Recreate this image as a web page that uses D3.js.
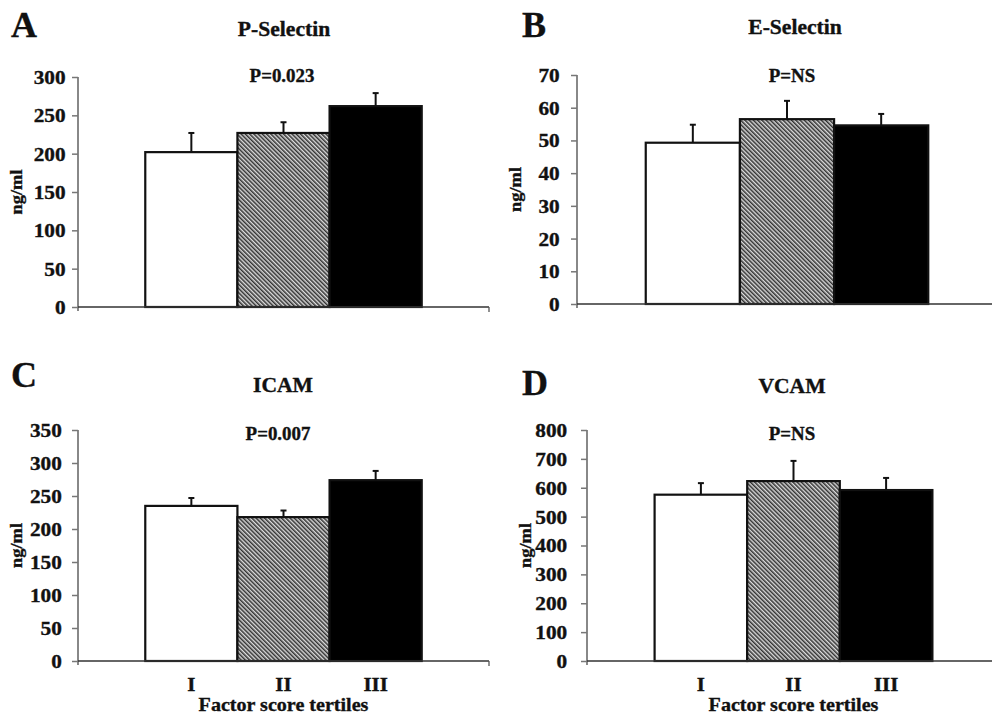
<!DOCTYPE html>
<html>
<head>
<meta charset="utf-8">
<script src="https://cdn.jsdelivr.net/npm/d3@7"></script>
<style>
html,body{margin:0;padding:0;background:#fff;}
svg{display:block;}
text{font-family:"Liberation Serif","Times New Roman",serif;font-weight:bold;fill:#111;stroke:#111;stroke-width:0.35px;}
</style>
</head>
<body>
<svg id="chart" width="992" height="715"></svg>
<script>
// ---- Data ----
const tertiles = ["I", "II", "III"];
const panelLetters = ["A", "B", "C", "D"];
const panelTitles = ["P-Selectin", "E-Selectin", "ICAM", "VCAM"];
const pValues = ["P=0.023", "P=NS", "P=0.007", "P=NS"];
const yMaxes = [300, 70, 350, 800];
const yTickSteps = [50, 10, 50, 100];
const pSelectinMeans = [202, 227, 262];
const pSelectinErrors = [25, 14, 17];
const eSelectinMeans = [49.3, 56.5, 54.6];
const eSelectinErrors = [5.5, 5.6, 3.5];
const icamMeans = [235, 218, 274];
const icamErrors = [12, 10, 14];
const vcamMeans = [576, 623, 592];
const vcamErrors = [40, 70, 42];
const xAxisTitle = "Factor score tertiles";
const yAxisTitle = "ng/ml";

const seriesMeans = [pSelectinMeans, eSelectinMeans, icamMeans, vcamMeans];
const seriesErrors = [pSelectinErrors, eSelectinErrors, icamErrors, vcamErrors];

// ---- Layout ----
const layouts = [
  {axisX:78,  right:489,  top:77,  bottom:307, pad:4,  letterX:11,  letterY:37,  titleX:284, titleY:36,  pX:282, pY:82,  showX:false},
  {axisX:577, right:997,  top:75,  bottom:304, pad:8,  letterX:522, letterY:37,  titleX:795, titleY:34,  pX:792, pY:82,  showX:false},
  {axisX:78,  right:489,  top:430, bottom:661, pad:7,  letterX:11,  letterY:387, titleX:283, titleY:392, pX:278, pY:440, showX:true},
  {axisX:587, right:1000, top:430, bottom:661, pad:10, letterX:522, letterY:395, titleX:792, titleY:393, pX:792, pY:440, showX:true}
];
const SX = 1.08; // horizontal stretch of the scanned figure text

const svg = d3.select("#chart");
const defs = svg.append("defs");
const pat = defs.append("pattern")
  .attr("id","hatch").attr("patternUnits","userSpaceOnUse")
  .attr("width",3).attr("height",3)
  .attr("patternTransform","rotate(-45)");
pat.append("rect").attr("width",3).attr("height",3).attr("fill","#dcdcdc");
pat.append("line").attr("x1",0.8).attr("y1",0).attr("x2",0.8).attr("y2",3)
  .attr("stroke","#1a1a1a").attr("stroke-width",1.35);

const fills = ["#ffffff", "url(#hatch)", "#000000"];

function txt(g, x, y, s, size, anchor, sx, rot){
  return g.append("text")
    .attr("transform", `translate(${x},${y})` + (rot ? ` rotate(${rot})` : "") + ` scale(${sx},1)`)
    .attr("text-anchor", anchor)
    .style("font-size", size + "px")
    .text(s);
}

layouts.forEach((L, i) => {
  const g = svg.append("g");
  const y = d3.scaleLinear().domain([0, yMaxes[i]]).range([L.bottom, L.top]);
  const x = d3.scaleBand().domain(tertiles).range([L.axisX, L.right])
    .paddingInner(0).paddingOuter(0.73);

  // bars
  g.selectAll("rect.bar").data(tertiles).enter().append("rect")
    .attr("x", d => x(d))
    .attr("width", x.bandwidth())
    .attr("y", (d, k) => y(seriesMeans[i][k]))
    .attr("height", (d, k) => L.bottom - y(seriesMeans[i][k]))
    .attr("fill", (d, k) => fills[k])
    .attr("stroke", "#111").attr("stroke-width", 2.2);

  // error bars
  tertiles.forEach((d, k) => {
    const cx = x(d) + x.bandwidth() / 2;
    const y1 = y(seriesMeans[i][k]);
    const y2 = y(seriesMeans[i][k] + seriesErrors[i][k]);
    g.append("line").attr("x1", cx).attr("x2", cx).attr("y1", y1).attr("y2", y2)
      .attr("stroke", "#111").attr("stroke-width", 2);
    g.append("line").attr("x1", cx - 3).attr("x2", cx + 3).attr("y1", y2).attr("y2", y2)
      .attr("stroke", "#111").attr("stroke-width", 2);
  });

  // y axis
  const ticks = d3.range(0, yMaxes[i] + 0.001, yTickSteps[i]);
  const yAxis = d3.axisLeft(y).tickValues(ticks).tickSize(6).tickPadding(L.pad).tickFormat(d3.format("d"));
  const ya = g.append("g").attr("transform", `translate(${L.axisX},0)`).call(yAxis);
  ya.select(".domain").attr("stroke", "#888").attr("stroke-width", 2)
    .attr("d", `M0,${L.top}V${L.bottom + 4}`);
  ya.selectAll(".tick line").attr("stroke", "#777").attr("stroke-width", 1.5);
  ya.selectAll(".tick text")
    .attr("fill", "#111")
    .style("font-size", "19px")
    .style("font-family", '"Liberation Serif","Times New Roman",serif')
    .style("font-weight", "bold")
    .attr("dy", "0.34em")
    .attr("transform", function(){ const xx = +d3.select(this).attr("x"); return `translate(${xx*(1.12-1)},0) scale(1.12,1)`; });

  // x axis
  g.append("line").attr("x1", L.axisX).attr("x2", L.right).attr("y1", L.bottom).attr("y2", L.bottom)
    .attr("stroke", "#333").attr("stroke-width", 1.3);
  g.append("line").attr("x1", L.right).attr("x2", L.right).attr("y1", L.bottom).attr("y2", L.bottom + 5)
    .attr("stroke", "#555").attr("stroke-width", 1.3);

  // texts
  txt(g, L.letterX, L.letterY, panelLetters[i], 36, "start", 1.0);
  txt(g, L.titleX, L.titleY, panelTitles[i], 20, "middle", SX);
  txt(g, L.pX, L.pY, pValues[i], 18, "middle", 1.05);
  txt(g, L.axisX - 56, (L.top + L.bottom) / 2, yAxisTitle, 16, "middle", 1.15, -90);

  if (L.showX) {
    tertiles.forEach(d => {
      txt(g, x(d) + x.bandwidth() / 2, L.bottom + 30, d, 19, "middle", 1.1);
    });
    txt(g, (L.axisX + L.right) / 2 + 0, L.bottom + 50, xAxisTitle, 19.5, "middle", 1.03);
  }
});
</script>
</body>
</html>
